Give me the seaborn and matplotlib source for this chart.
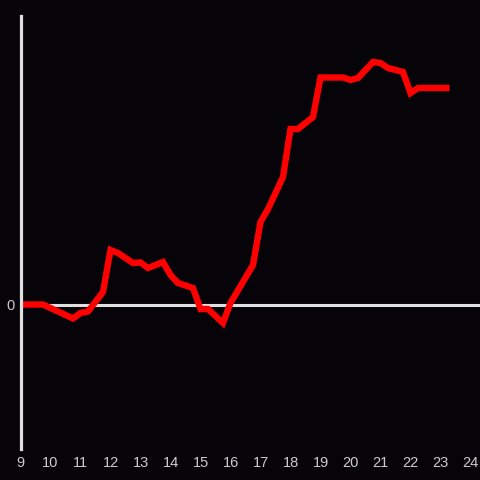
import matplotlib
matplotlib.use("Agg")
import matplotlib.pyplot as plt
import seaborn as sns
import pandas as pd

hours = [9.0, 9.75, 10.75, 11.0, 11.25, 11.75, 12.0, 12.25, 12.75, 13.0, 13.25,
         13.75, 14.0, 14.25, 14.75, 15.0, 15.25, 15.75, 16.0, 16.75, 17.0, 17.25,
         17.75, 18.0, 18.25, 18.75, 19.0, 19.75, 20.0, 20.25, 20.75, 21.0, 21.25,
         21.75, 22.0, 22.25, 23.3]
values = [0, 0, -14, -8.5, -7, 12.5, 54.5, 51.5, 41.5, 42, 36.5,
          42.5, 29.5, 21.5, 16.5, -4.5, -4.5, -18.5, 1.5, 39.5, 82.5, 95.5,
          127.5, 175.5, 175.5, 187.5, 227, 227, 224.5, 226.5, 242.5, 241.5, 236.5,
          232.5, 211.5, 216.5, 216.5]
xticks = list(range(9, 25))

df = pd.DataFrame({"hour": hours, "value": values})

sns.set_style("dark")
bg = "#060408"
fig = plt.figure(figsize=(4.8, 4.8), dpi=100, facecolor=bg)
ax = fig.add_axes([20.5/480, 31/480, 459.5/480, 433/480], facecolor=bg)

ax.axhline(0, color="#e0e0e0", lw=2.2, zorder=1)
sns.lineplot(data=df, x="hour", y="value", ax=ax, color="#ff0000", lw=4.6,
             zorder=3, solid_capstyle="butt", solid_joinstyle="miter")

ax.set_xlim(9, 9 + 459.5/30)
ax.set_ylim(-144.5, 288.5)
ax.set_xticks(xticks)
ax.set_xticklabels([str(t) for t in xticks])
ax.set_yticks([0])
ax.set_yticklabels(["0"])
ax.set_xlabel("")
ax.set_ylabel("")
ax.grid(False)
for s in ["top", "right", "bottom"]:
    ax.spines[s].set_visible(False)
ax.spines["left"].set_color("#e0e0e0")
ax.spines["left"].set_linewidth(2.3)
ax.spines["left"].set_zorder(4)
ax.tick_params(axis="both", length=0, colors="#cccccc", labelsize=10.5)
ax.tick_params(axis="x", pad=5)
ax.tick_params(axis="y", pad=4)
for lab in ax.get_xticklabels() + ax.get_yticklabels():
    lab.set_fontfamily("Liberation Sans")

fig.savefig("out.png", dpi=100, facecolor=bg)
